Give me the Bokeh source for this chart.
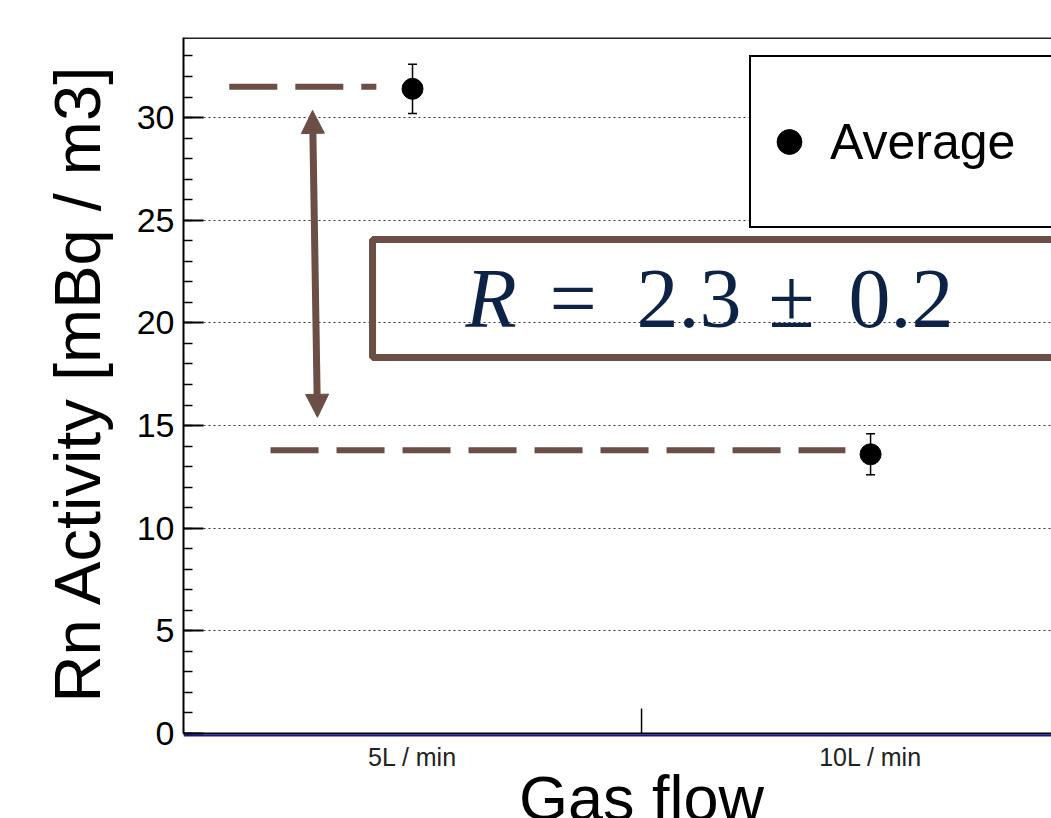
from bokeh.plotting import figure
from bokeh.models import (Range1d, SingleIntervalTicker, Whisker, ColumnDataSource,
                          TeeHead, Arrow, NormalHead, BoxAnnotation, Label, Span)
from bokeh.core.properties import value
from bokeh.embed import file_html
from bokeh.resources import INLINE

# ---------------- data ----------------
flows = ["5L / min", "10L / min"]
activity = [31.4, 13.6]
activity_err = [1.2, 1.0]
series_name = "Average"
y_title = "Rn Activity [mBq / m3]"
x_title = "Gas flow"
ratio_parts = ["R", "=", "2.3", "\u00b1", "0.2"]
ref_levels = [31.5, 13.8]          # dashed guide levels
y_max = 33.9
y_floor = -4.14                    # frame continues below 0 to hold the x labels
x_visible = 1.895                  # visible part of the 2-bin axis

# ---------------- styles ----------------
BROWN = "#6b4e45"
NAVY = "#0c2346"
SANS = "Liberation Sans"
SERIF = "Liberation Serif"

x_pos = [i + 0.5 for i in range(len(flows))]
edges = [float(i) for i in range(1, len(flows))]
src = ColumnDataSource(dict(
    x=x_pos, y=activity,
    lo=[a - e for a, e in zip(activity, activity_err)],
    hi=[a + e for a, e in zip(activity, activity_err)],
))

p = figure(width=1051, height=818, output_backend="svg", toolbar_location=None,
           x_range=Range1d(0, x_visible), y_range=Range1d(y_floor, y_max),
           x_axis_location=None,
           min_border_left=183, min_border_right=0, min_border_top=37, min_border_bottom=0)
p.outline_line_color = None
p.background_fill_color = "white"
p.border_fill_color = "white"

# y axis
yax = p.yaxis[0]
yax.bounds = (0, y_max)
yax.ticker = SingleIntervalTicker(interval=5, num_minor_ticks=5)
yax.major_tick_in = 20
yax.major_tick_out = 0
yax.minor_tick_in = 9
yax.minor_tick_out = 0
yax.axis_line_width = 2
yax.major_tick_line_width = 2
yax.minor_tick_line_width = 1.5
yax.major_label_text_font = SANS
yax.major_label_text_font_size = "34px"
yax.major_label_text_color = "black"
yax.major_label_standoff = 9
# leading no-break spaces keep the title centred on the 0..y_max part of the axis
yax.axis_label = "\u00a0" * 5 + y_title
yax.axis_label_text_font = SANS
yax.axis_label_text_font_size = "65px"
yax.axis_label_text_font_style = "normal"
yax.axis_label_text_color = "black"
yax.axis_label_standoff = 20

# grid
p.xgrid.visible = False
p.ygrid.grid_line_dash = "2 3"
p.ygrid.grid_line_color = "#333333"
p.ygrid.grid_line_width = 1
p.ygrid.bounds = (0, y_max)

# frame borders and the x axis line (drawn at y = 0)
p.add_layout(Span(location=y_max, dimension="width", line_color="#222222", line_width=3))
p.add_layout(Span(location=-0.1, dimension="width", line_color="#1414a0", line_width=2))
p.add_layout(Span(location=0, dimension="width", line_color="black", line_width=2))
p.ray(x=edges, y=[0] * len(edges), length=25, length_units="screen",
      angle=90, angle_units="deg", line_color="black", line_width=1.5)

# category labels
p.text(x=x_pos, y=[0] * len(flows), text=flows, y_offset=9,
       text_font=value(SANS), text_font_size="25px", text_color="#222222",
       text_align="center", text_baseline="top")

# dashed guide lines and arrow
guide_start = [0.1, 0.19]
guide_gap = [0.079, 0.055]
p.segment(x0=guide_start, y0=ref_levels,
          x1=[xp - g for xp, g in zip(x_pos, guide_gap)], y1=ref_levels,
          line_color=BROWN, line_width=6, line_dash="48 18")

p.add_layout(Arrow(start=NormalHead(size=23, fill_color=BROWN, line_color=BROWN),
                   end=NormalHead(size=23, fill_color=BROWN, line_color=BROWN),
                   x_start=0.2925, y_start=ref_levels[1] + 1.6,
                   x_end=0.2817, y_end=ref_levels[0] - 1.15,
                   line_color=BROWN, line_width=7))

# error bars and points
p.add_layout(Whisker(source=src, base="x", upper="hi", lower="lo",
                     line_color="black", line_width=1.5,
                     upper_head=TeeHead(size=9, line_color="black", line_width=1.5),
                     lower_head=TeeHead(size=9, line_color="black", line_width=1.5)))
p.scatter("x", "y", source=src, size=21, color="black", legend_label=series_name)

# legend
lg = p.legend[0]
lg.location = (566, 590)
lg.margin = 0
lg.padding = 7
lg.spacing = 0
lg.glyph_width = 62
lg.glyph_height = 155
lg.label_standoff = 10
lg.label_width = 320
lg.label_text_font = SANS
lg.label_text_font_size = "50px"
lg.label_text_color = "black"
lg.label_text_baseline = "middle"
lg.border_line_color = "black"
lg.border_line_width = 2
lg.border_line_alpha = 1
lg.background_fill_color = "white"
lg.background_fill_alpha = 1

# ratio box
p.add_layout(BoxAnnotation(left=0.4127, right=2.2, top=24.06, bottom=18.31,
                           fill_color=None, fill_alpha=0, line_color=BROWN,
                           line_alpha=1, line_width=7))
ratio_x = [282, 366, 453, 585, 665]
for px, txt in zip(ratio_x, ratio_parts):
    p.add_layout(Label(x=px, y=520, x_units="screen", y_units="screen", text=txt,
                       text_font=SERIF, text_font_style="italic" if txt == "R" else "normal",
                       text_font_size="84px", text_color=NAVY, text_baseline="alphabetic"))

# x title
p.add_layout(Label(x=len(flows) / 2, y=21, y_units="screen", text=x_title,
                   text_font=SANS, text_font_size="63px", text_color="black",
                   text_align="center", text_baseline="alphabetic"))

open("out.html", "w").write(file_html(p, INLINE))
